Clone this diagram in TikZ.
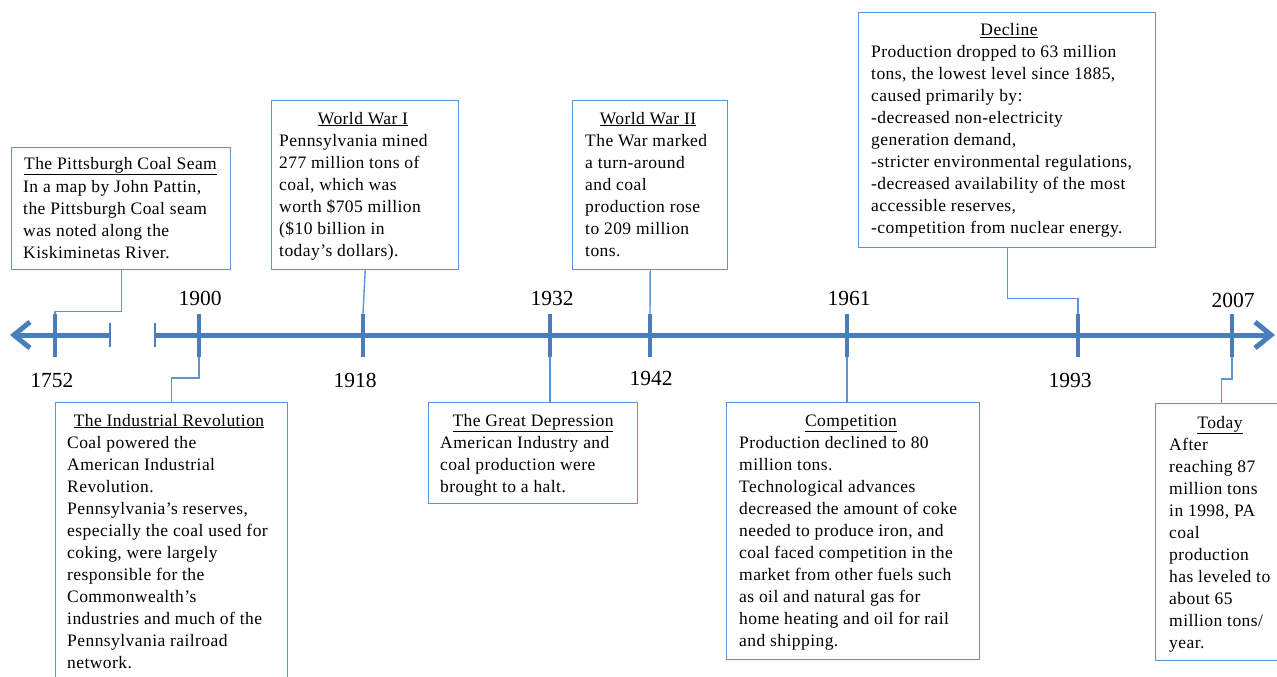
\documentclass[tikz,border=0pt]{standalone}
\usepackage{fontspec}
\setmainfont{Liberation Serif}
\newfontfamily\boxfont[LetterSpace=2.5]{Liberation Serif}
\usetikzlibrary{arrows.meta}
\definecolor{tl}{RGB}{74,126,187}
\definecolor{bx}{RGB}{96,146,214}
\begin{document}
\begin{tikzpicture}[x=1pt,y=-1pt,
  box/.style={draw=bx, line width=1.4pt, inner sep=0pt, anchor=north west},
  ttl/.style={anchor=base, inner sep=0pt, font=\boxfont\fontsize{17.5}{22}\selectfont},
  bdy/.style={anchor=north west, align=left, inner sep=0pt, font=\boxfont\fontsize{17.5}{22}\selectfont},
  conn/.style={draw=bx, line width=1.4pt},
  tick/.style={draw=tl, line width=4pt},
  year/.style={font=\fontsize{21.5}{24}\selectfont, inner sep=0pt},
  brk/.style={draw=tl, line width=1.5pt}
]
\useasboundingbox (0,0) rectangle (1277,677);

% timeline
\coordinate (L) at (10,335);
\coordinate (Lb) at (110,335);
\coordinate (Rb) at (155,335);
\coordinate (R) at (1275,335);
\draw[tl, line width=5pt, {Straight Barb[length=16pt,width=26pt]}-] (L) -- (Lb);
\draw[tl, line width=5pt, -{Straight Barb[length=16pt,width=26pt]}] (Rb) -- (R);
\draw[brk] (110,323) -- (110,347);
\draw[brk] (155,323) -- (155,347);

\foreach \x/\n in {55/a,199/b,363/c,550/d,650/e,847/f,1078/g,1232/h}{
  \coordinate (t\n) at (\x,314);
  \coordinate (u\n) at (\x,357);
  \draw[tick] (t\n) -- (u\n);
}

% years
\node[year] (y1752) at (52,380) {1752};
\node[year] (y1900) at (200,298) {1900};
\node[year] (y1918) at (355,380) {1918};
\node[year] (y1932) at (552,298) {1932};
\node[year] (y1942) at (651,378) {1942};
\node[year] (y1961) at (849,298) {1961};
\node[year] (y1993) at (1070,380) {1993};
\node[year] (y2007) at (1233,300) {2007};

% Pittsburgh
\node[box, minimum width=219pt, minimum height=122pt] (b1) at (11,147) {};
\node[ttl] (h1) at (120.5,169) {\underline{The Pittsburgh Coal Seam}};
\node[bdy] (p1) at (23,179) {\rule{0pt}{13pt}In a map by John Pattin,\\the Pittsburgh Coal seam\\was noted along the\\Kiskiminetas River.};
\draw[conn] (b1.south) -- ++(0,41) -| (ta);

% Industrial Revolution
\node[box, minimum width=232pt, minimum height=300pt] (b2) at (55,402) {};
\node[ttl] (h2) at (169,426) {\underline{The Industrial Revolution}};
\node[bdy] (p2) at (67,435) {\rule{0pt}{13pt}Coal powered the\\American Industrial\\Revolution.\\Pennsylvania’s reserves,\\especially the coal used for\\coking, were largely\\responsible for the\\Commonwealth’s\\industries and much of the\\Pennsylvania railroad\\network.};
\draw[conn] (ub) -- ++(0,21) -| (b2.north);

% World War I
\node[box, minimum width=187pt, minimum height=169pt] (b3) at (271,100) {};
\node[ttl] (h3) at (363,124) {\underline{World War I}};
\node[bdy] (p3) at (279,133) {\rule{0pt}{13pt}Pennsylvania mined\\277 million tons of\\coal, which was\\worth \$705 million\\(\$10 billion in\\today’s dollars).};
\draw[conn] (b3.south) -- (tc);

% Great Depression
\node[box, minimum width=209pt, minimum height=101pt] (b4) at (428,402) {};
\node[ttl] (h4) at (533,426) {\underline{The Great Depression}};
\node[bdy] (p4) at (440,435) {\rule{0pt}{13pt}American Industry and\\coal production were\\brought to a halt.};
\draw[conn] (ud) -- (ud |- b4.north);

% World War II
\node[box, minimum width=155pt, minimum height=169pt] (b5) at (572,100) {};
\node[ttl] (h5) at (648,124) {\underline{World War II}};
\node[bdy] (p5) at (585,133) {\rule{0pt}{13pt}The War marked\\a turn-around\\and coal\\production rose\\to 209 million\\tons.};
\draw[conn] (b5.south) -- (te);

% Competition
\node[box, minimum width=253pt, minimum height=257pt] (b6) at (726,402) {};
\node[ttl] (h6) at (851,426) {\underline{Competition}};
\node[bdy] (p6) at (739,435) {\rule{0pt}{13pt}Production declined to 80\\million tons.\\Technological advances\\decreased the amount of coke\\needed to produce iron,  and\\coal faced competition in the\\market from other fuels such\\as oil and natural gas for\\home heating and oil for rail\\and shipping.};
\draw[conn] (uf) -- (uf |- b6.north);

% Decline
\node[box, minimum width=297pt, minimum height=235pt] (b7) at (858,12) {};
\node[ttl] (h7) at (1009,36) {\underline{Decline}};
\node[bdy] (p7) at (871,44) {\rule{0pt}{13pt}Production dropped to 63 million\\tons, the lowest  level since 1885,\\caused primarily by:\\-decreased non-electricity\\generation demand,\\-stricter environmental regulations,\\-decreased availability of the most\\accessible reserves,\\-competition from nuclear energy.};
\draw[conn] (b7.south) -- ++(0,50) -| (tg);

% Today
\node[box, minimum width=132pt, minimum height=257pt] (b8) at (1155,403) {};
\node[ttl] (h8) at (1220,428) {\underline{Today}};
\node[bdy] (p8) at (1169,437) {\rule{0pt}{13pt}After\\reaching 87\\million tons\\in 1998, PA\\coal\\production\\has leveled to\\about 65\\million tons/\\year.};
\draw[conn] (uh) -- ++(0,22) -| (b8.north);
\end{tikzpicture}
\end{document}
